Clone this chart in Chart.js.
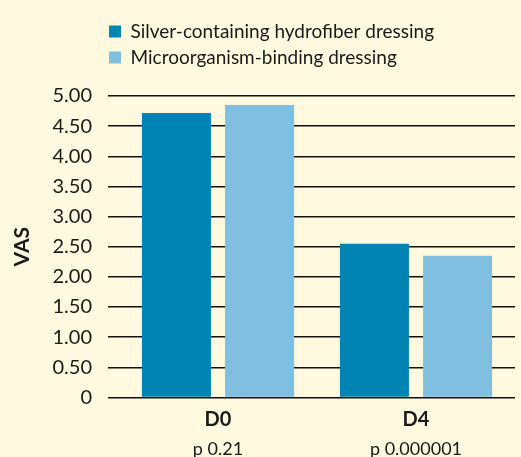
<!DOCTYPE html>
<html>
<head>
<meta charset="utf-8">
<script src="https://cdn.jsdelivr.net/npm/chart.js@4"></script>
<style>
    html, body { margin: 0; padding: 0; background: #fffadf; }
    #wrap { width: 521px; height: 457px; position: relative; }
</style>
</head>
<body>
<div id="wrap"><canvas id="vasChart"></canvas></div>
<script>
// Data
const DAYS = ['D0', 'D4'];
const P_VALUES = ['p 0.21', 'p 0.000001'];
const SILVER_VAS = [4.72, 2.55];
const BINDING_VAS = [4.85, 2.35];
const Y_TICKS_MAX = 5;

const TEXT = '#1a1a1a';
const FONT = 'Lato, "Open Sans", sans-serif';

// nudge the wrapped legend so its rows start near the y axis
const legendShift = {
    id: 'legendShift',
    afterLayout(chart) {
        chart.legend.left = chart.chartArea.left - 17;
    }
};

const ctx = document.getElementById('vasChart').getContext('2d');
new Chart(ctx, {
    type: 'bar',
    data: {
        labels: DAYS,
        datasets: [
            { label: 'Silver-containing hydrofiber dressing', data: SILVER_VAS, backgroundColor: '#0084b4' },
            { label: 'Microorganism-binding dressing', data: BINDING_VAS, backgroundColor: '#80bfdf' }
        ]
    },
    options: {
        responsive: true,
        maintainAspectRatio: false,
        animation: false,
        barPercentage: 0.83,
        categoryPercentage: 0.84,
        layout: { padding: { top: 15, right: 6, left: 0, bottom: 0 } },
        plugins: {
            legend: {
                position: 'top',
                align: 'start',
                weight: 3000,
                labels: { color: TEXT, font: { family: FONT, size: 19 }, boxWidth: 12, boxHeight: 12, padding: 7 }
            },
            title: { display: true, text: ' ', padding: { top: 0, bottom: 7 }, font: { size: 10 } },
            tooltip: { enabled: false }
        },
        scales: {
            y: {
                min: 0,
                max: Y_TICKS_MAX,
                border: { display: false },
                grid: { color: '#111', lineWidth: 1.5, tickLength: 11 },
                ticks: {
                    stepSize: 0.5,
                    padding: 16,
                    color: TEXT,
                    font: { family: FONT, size: 20 },
                    callback: v => v === 0 ? '0' : v.toFixed(2)
                },
                title: { display: true, text: 'VAS', color: TEXT, font: { family: FONT, size: 21, weight: 'bold' }, padding: { top: 10, bottom: 0 } },
                afterFit: s => { s.width = 119; }
            },
            x: {
                weight: 0,
                border: { display: false },
                grid: { display: false, drawTicks: false },
                ticks: { padding: 10, color: TEXT, font: { family: FONT, size: 20, weight: 'bold' } }
            },
            x2: {
                type: 'category',
                position: 'bottom',
                weight: 1,
                labels: P_VALUES,
                border: { display: false },
                grid: { display: false, drawTicks: false },
                ticks: { padding: -3, color: TEXT, font: { family: FONT, size: 18 } }
            }
        }
    },
    plugins: [legendShift]
});
</script>
</body>
</html>
